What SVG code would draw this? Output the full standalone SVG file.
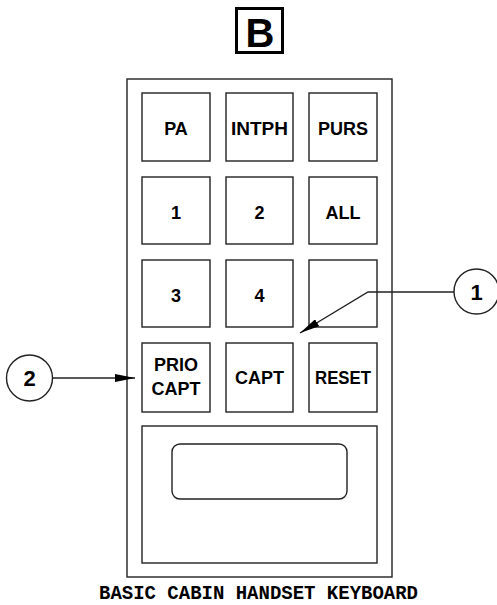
<svg xmlns="http://www.w3.org/2000/svg" width="497" height="605" viewBox="0 0 497 605">
<style>
.ln{fill:none;stroke:#222;stroke-width:1.4}
.key{fill:#fff;stroke:#222;stroke-width:1.4}
.lbl{font-family:"Liberation Sans",Arial,sans-serif;font-weight:bold;font-size:18px;fill:#000;text-anchor:middle}
.num{font-family:"Liberation Sans",Arial,sans-serif;font-weight:bold;font-size:22px;fill:#000;text-anchor:middle}
.cap{font-family:"Liberation Mono","DejaVu Sans Mono",monospace;font-weight:bold;font-size:20px;fill:#000;text-anchor:middle}
</style>
<defs>
<marker id="ah" markerUnits="userSpaceOnUse" markerWidth="20" markerHeight="8" refX="20" refY="4" orient="auto">
<path d="M0,0 L20,4 L0,8 z" fill="#000"/>
</marker>
</defs>
<rect width="497" height="605" fill="#fff"/>
<g id="view-label">
<rect x="236.5" y="8.5" width="46" height="44" fill="none" stroke="#000" stroke-width="3"/>
<text x="260" y="47" font-family="Liberation Sans,Arial,sans-serif" font-weight="bold" font-size="40" text-anchor="middle">B</text>
</g>
<g id="panel">
<rect class="ln" x="127" y="79" width="265" height="498"/>
</g>
<g id="key-pa"><rect class="key" x="142" y="93" width="68" height="68"/><text class="lbl" x="176" y="134.5">PA</text></g>
<g id="key-intph"><rect class="key" x="226" y="93" width="67" height="68"/><text class="lbl" x="259.5" y="134.5" textLength="57" lengthAdjust="spacingAndGlyphs">INTPH</text></g>
<g id="key-purs"><rect class="key" x="309" y="93" width="68" height="68"/><text class="lbl" x="343" y="134.5">PURS</text></g>
<g id="key-1"><rect class="key" x="142" y="177" width="68" height="67"/><text class="lbl" x="176" y="218.5">1</text></g>
<g id="key-2"><rect class="key" x="226" y="177" width="67" height="67"/><text class="lbl" x="259.5" y="218.5">2</text></g>
<g id="key-all"><rect class="key" x="309" y="177" width="68" height="67"/><text class="lbl" x="343" y="218.5">ALL</text></g>
<g id="key-3"><rect class="key" x="142" y="260" width="68" height="67"/><text class="lbl" x="176" y="302">3</text></g>
<g id="key-4"><rect class="key" x="226" y="260" width="67" height="67"/><text class="lbl" x="259.5" y="302">4</text></g>
<g id="key-blank"><rect class="key" x="309" y="260" width="68" height="67"/></g>
<g id="key-prio-capt"><rect class="key" x="142" y="343" width="68" height="69"/><text class="lbl" x="176" y="371">PRIO</text><text class="lbl" x="176" y="395">CAPT</text></g>
<g id="key-capt"><rect class="key" x="226" y="343" width="67" height="69"/><text class="lbl" x="259.5" y="384">CAPT</text></g>
<g id="key-reset"><rect class="key" x="309" y="343" width="68" height="69"/><text class="lbl" x="343" y="384" textLength="56" lengthAdjust="spacingAndGlyphs">RESET</text></g>
<g id="display">
<rect class="key" x="142" y="426" width="235" height="137"/>
<rect class="ln" x="172" y="444" width="175" height="55" rx="8"/>
</g>
<g id="callout-1"><circle class="ln" cx="476.5" cy="291.5" r="22.5"/><text class="num" x="476.5" y="299.5">1</text></g>
<g id="callout-2"><circle class="ln" cx="29.5" cy="378" r="23"/><text class="num" x="29.5" y="386">2</text></g>
<g id="connectors">
<polyline class="ln" points="454,292 368,292 300,333" marker-end="url(#ah)"/>
<line class="ln" x1="52.5" y1="378" x2="135" y2="378" marker-end="url(#ah)"/>
</g>
<text class="cap" x="258.5" y="599" textLength="319" lengthAdjust="spacingAndGlyphs">BASIC CABIN HANDSET KEYBOARD</text>
</svg>
